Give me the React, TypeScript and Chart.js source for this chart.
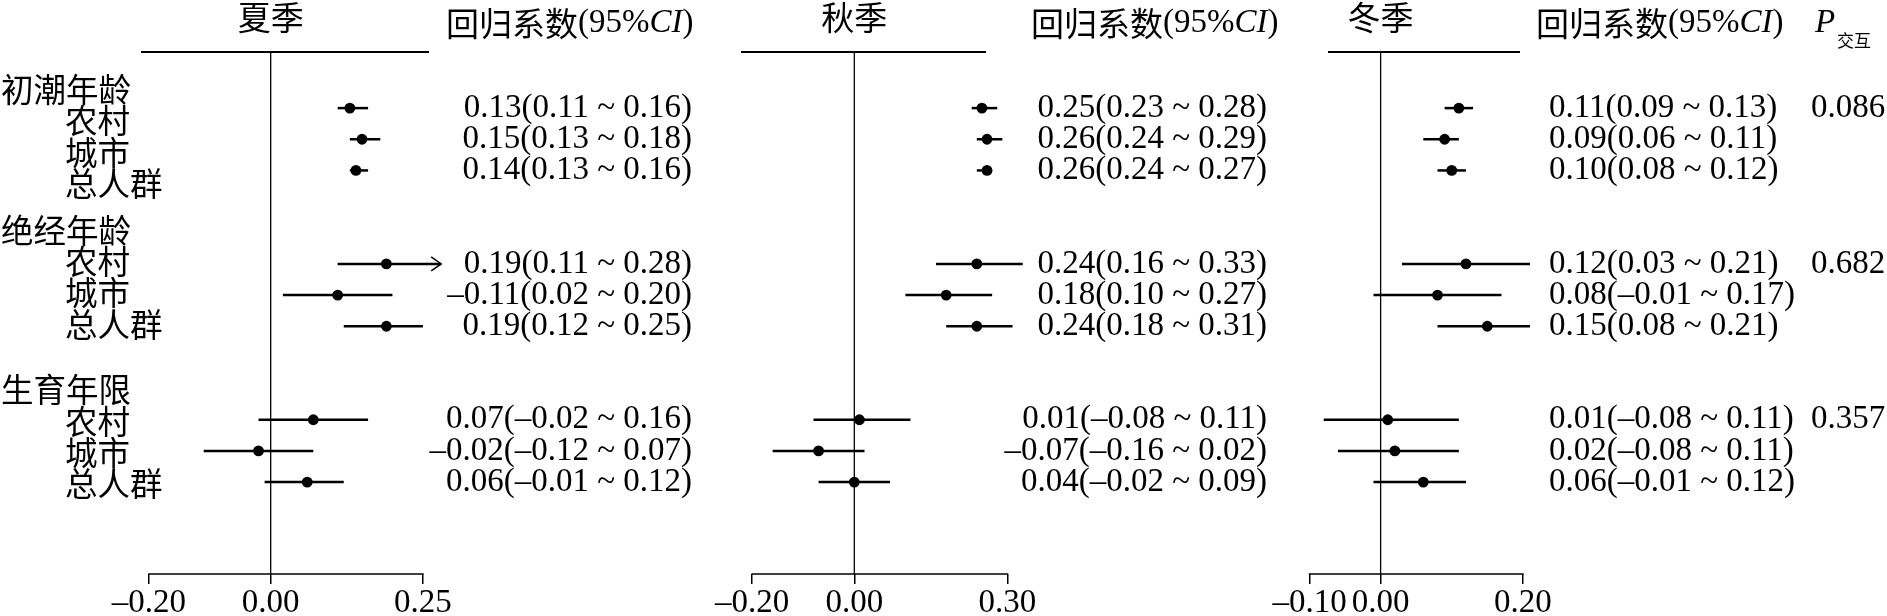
import React, { useEffect, useRef } from 'react';
import { Chart, registerables } from 'chart.js';

Chart.register(...registerables);

// ---------- data ----------
const groups = ['初潮年龄', '绝经年龄', '生育年限'];
const subgroups = ['农村', '城市', '总人群'];
const seasons = ['夏季', '秋季', '冬季'];

// estimates and 95% CI as drawn (order: group x subgroup)
const summerEst = [0.13, 0.15, 0.14, 0.19, 0.11, 0.19, 0.07, -0.02, 0.06];
const summerLo = [0.11, 0.13, 0.13, 0.11, 0.02, 0.12, -0.02, -0.11, -0.01];
const summerHi = [0.16, 0.18, 0.16, 0.28, 0.2, 0.25, 0.16, 0.07, 0.12];
const summerArrow = [false, false, false, true, false, false, false, false, false];
const summerText = [
  '0.13(0.11 ~ 0.16)', '0.15(0.13 ~ 0.18)', '0.14(0.13 ~ 0.16)',
  '0.19(0.11 ~ 0.28)', '–0.11(0.02 ~ 0.20)', '0.19(0.12 ~ 0.25)',
  '0.07(–0.02 ~ 0.16)', '–0.02(–0.12 ~ 0.07)', '0.06(–0.01 ~ 0.12)',
];

const autumnEst = [0.25, 0.26, 0.26, 0.24, 0.18, 0.24, 0.01, -0.07, 0.0];
const autumnLo = [0.23, 0.24, 0.24, 0.16, 0.1, 0.18, -0.08, -0.16, -0.07];
const autumnHi = [0.28, 0.29, 0.27, 0.33, 0.27, 0.31, 0.11, 0.02, 0.07];
const autumnArrow = [false, false, false, false, false, false, false, false, false];
const autumnText = [
  '0.25(0.23 ~ 0.28)', '0.26(0.24 ~ 0.29)', '0.26(0.24 ~ 0.27)',
  '0.24(0.16 ~ 0.33)', '0.18(0.10 ~ 0.27)', '0.24(0.18 ~ 0.31)',
  '0.01(–0.08 ~ 0.11)', '–0.07(–0.16 ~ 0.02)', '0.04(–0.02 ~ 0.09)',
];

const winterEst = [0.11, 0.09, 0.1, 0.12, 0.08, 0.15, 0.01, 0.02, 0.06];
const winterLo = [0.09, 0.06, 0.08, 0.03, -0.01, 0.08, -0.08, -0.06, -0.01];
const winterHi = [0.13, 0.11, 0.12, 0.21, 0.17, 0.21, 0.11, 0.11, 0.12];
const winterArrow = [false, false, false, false, false, false, false, false, false];
const winterText = [
  '0.11(0.09 ~ 0.13)', '0.09(0.06 ~ 0.11)', '0.10(0.08 ~ 0.12)',
  '0.12(0.03 ~ 0.21)', '0.08(–0.01 ~ 0.17)', '0.15(0.08 ~ 0.21)',
  '0.01(–0.08 ~ 0.11)', '0.02(–0.08 ~ 0.11)', '0.06(–0.01 ~ 0.12)',
];

const pInteraction = ['0.086', '0.682', '0.357'];

const summerTicks = [-0.2, 0, 0.25];
const autumnTicks = [-0.2, 0, 0.3];
const winterTicks = [-0.1, 0, 0.2];

const summerRange = [-0.213, 0.26];
const autumnRange = [-0.222, 0.258];
const winterRange = [-0.074, 0.196];

// ---------- layout / style ----------
const W = 1887;
const H = 622;
const ROWS_MIN = -0.8;
const ROWS_MAX = 15.95;
const SERIF = '"Liberation Serif", "Times New Roman", serif';
const CJK = '"Noto Sans CJK SC", "Noto Sans CJK JP", sans-serif';
const NUM_SIZE = 33;
const CJK_SIZE = 32.5;
const labelShift = [13, -2, 1.5];

const rowOf = (i: number) => Math.floor(i / 3) * 5 + 1 + (i % 3);
const fmtTick = (v: number) => (v < 0 ? '–' : '') + Math.abs(v).toFixed(2);

const panels = [
  {
    title: seasons[0], est: summerEst, lo: summerLo, hi: summerHi, arrow: summerArrow, text: summerText,
    ticks: summerTicks, range: summerRange, area: [141, 429], textX: 692, textAlign: 'right', headerX: 446,
  },
  {
    title: seasons[1], est: autumnEst, lo: autumnLo, hi: autumnHi, arrow: autumnArrow, text: autumnText,
    ticks: autumnTicks, range: autumnRange, area: [741, 986], textX: 1267, textAlign: 'right', headerX: 1031,
  },
  {
    title: seasons[2], est: winterEst, lo: winterLo, hi: winterHi, arrow: winterArrow, text: winterText,
    ticks: winterTicks, range: winterRange, area: [1328, 1520], textX: 1549, textAlign: 'left', headerX: 1536,
  },
];

function drawSegments(ctx: CanvasRenderingContext2D, x: number, y: number, segs: [string, string][]) {
  let cx = x;
  ctx.textAlign = 'left';
  for (const [t, f] of segs) {
    ctx.font = f;
    ctx.fillText(t, cx, y);
    cx += ctx.measureText(t).width;
  }
}

function makePlugin(p: any, idx: number) {
  return {
    id: 'forest' + idx,
    beforeDatasetsDraw(chart: any) {
      const { ctx, chartArea: a, scales } = chart;
      const x = scales.x;
      const y = scales.y;
      ctx.save();
      ctx.strokeStyle = '#000';
      ctx.lineCap = 'butt';
      // top rule
      ctx.lineWidth = 2;
      ctx.beginPath();
      ctx.moveTo(a.left, a.top);
      ctx.lineTo(a.right, a.top);
      ctx.stroke();
      // zero line
      const x0 = x.getPixelForValue(0);
      ctx.lineWidth = 1.3;
      ctx.beginPath();
      ctx.moveTo(x0, a.top);
      ctx.lineTo(x0, a.bottom);
      ctx.stroke();
      // axis line between first and last tick
      const t = x.ticks;
      ctx.lineWidth = 1.5;
      ctx.beginPath();
      ctx.moveTo(x.getPixelForValue(t[0].value) - 0.75, a.bottom);
      ctx.lineTo(x.getPixelForValue(t[t.length - 1].value) + 0.75, a.bottom);
      ctx.stroke();
      // CI lines
      p.lo.forEach((lo: number, i: number) => {
        const yy = y.getPixelForValue(rowOf(i));
        const xl = x.getPixelForValue(lo);
        const xh = x.getPixelForValue(p.hi[i]);
        ctx.lineWidth = 2.5;
        ctx.beginPath();
        ctx.moveTo(xl, yy);
        ctx.lineTo(xh, yy);
        ctx.stroke();
        if (p.arrow[i]) {
          ctx.lineWidth = 1.5;
          ctx.beginPath();
          ctx.moveTo(xh - 10, yy - 7);
          ctx.lineTo(xh, yy);
          ctx.lineTo(xh - 10, yy + 7);
          ctx.stroke();
        }
      });
      ctx.restore();
    },
    afterDraw(chart: any) {
      const { ctx, scales } = chart;
      const x = scales.x;
      const y = scales.y;
      ctx.save();
      ctx.fillStyle = '#000';
      ctx.textBaseline = 'middle';
      // title
      ctx.font = `33px ${CJK}`;
      ctx.textAlign = 'center';
      ctx.fillText(p.title, x.getPixelForValue(0), 17);
      // header
      drawSegments(ctx, p.headerX, 23, [
        ['回归系数', `33px ${CJK}`],
        ['(95%', `${NUM_SIZE}px ${SERIF}`],
        ['CI', `italic ${NUM_SIZE}px ${SERIF}`],
        [')', `${NUM_SIZE}px ${SERIF}`],
      ]);
      // estimates text
      ctx.font = `${NUM_SIZE}px ${SERIF}`;
      ctx.textAlign = p.textAlign;
      p.text.forEach((s: string, i: number) => {
        ctx.fillText(s, p.textX, y.getPixelForValue(rowOf(i)));
      });
      // left labels (first panel only)
      if (idx === 0) {
        ctx.font = `${CJK_SIZE}px ${CJK}`;
        ctx.textAlign = 'left';
        groups.forEach((g, gi) => {
          const base = gi * 5;
          ctx.fillText(g, 1, y.getPixelForValue(base) + labelShift[gi]);
          subgroups.forEach((s, si) => {
            ctx.fillText(s, 65, y.getPixelForValue(base + 1 + si) + labelShift[gi]);
          });
        });
      }
      // P interaction column (last panel only)
      if (idx === panels.length - 1) {
        ctx.textAlign = 'left';
        ctx.font = `italic ${NUM_SIZE}px ${SERIF}`;
        ctx.fillText('P', 1815, 23);
        ctx.font = `17px ${CJK}`;
        ctx.fillText('交互', 1837, 41);
        ctx.font = `${NUM_SIZE}px ${SERIF}`;
        pInteraction.forEach((v, gi) => {
          ctx.fillText(v, 1811, y.getPixelForValue(gi * 5 + 1));
        });
      }
      ctx.restore();
    },
  };
}

function ForestPanel({ p, idx }: { p: any; idx: number }) {
  const ref = useRef<HTMLCanvasElement>(null);
  useEffect(() => {
    if (!ref.current) return;
    const chart = new Chart(ref.current, {
      type: 'scatter',
      data: {
        datasets: [
          {
            data: p.est.map((v: number, i: number) => ({ x: v, y: rowOf(i) })),
            pointRadius: 5.4,
            pointBackgroundColor: '#000',
            pointBorderColor: '#000',
            pointBorderWidth: 0,
            showLine: false,
            clip: false,
          } as any,
        ],
      },
      options: {
        responsive: false,
        animation: false,
        events: [],
        layout: { padding: { left: p.area[0], right: W - p.area[1], top: 52, bottom: 0 } },
        plugins: { legend: { display: false }, tooltip: { enabled: false } },
        scales: {
          x: {
            type: 'linear',
            min: p.range[0],
            max: p.range[1],
            afterBuildTicks: (s: any) => {
              s.ticks = p.ticks.map((v: number) => ({ value: v }));
            },
            grid: { display: true, drawOnChartArea: false, drawTicks: true, tickLength: 10, color: '#000', lineWidth: 1.5 },
            border: { display: false },
            ticks: {
              autoSkip: false,
              maxRotation: 0,
              padding: 0,
              color: '#000',
              font: { family: SERIF, size: NUM_SIZE, lineHeight: 1.15 },
              callback: (v: any) => fmtTick(Number(v)),
            },
          },
          y: { type: 'linear', display: false, reverse: true, min: ROWS_MIN, max: ROWS_MAX },
        },
      },
      plugins: [makePlugin(p, idx)],
    } as any);
    return () => chart.destroy();
  }, []);
  return (
    <canvas
      ref={ref}
      width={W}
      height={H}
      style={{ position: 'absolute', left: 0, top: 0, width: W, height: H }}
    />
  );
}

export default function App() {
  return (
    <div
      style={{
        position: 'fixed', left: 0, top: 0, width: W, height: 616,
        overflow: 'hidden', background: '#fff',
      }}
    >
      {panels.map((p, i) => (
        <ForestPanel key={i} p={p} idx={i} />
      ))}
    </div>
  );
}
